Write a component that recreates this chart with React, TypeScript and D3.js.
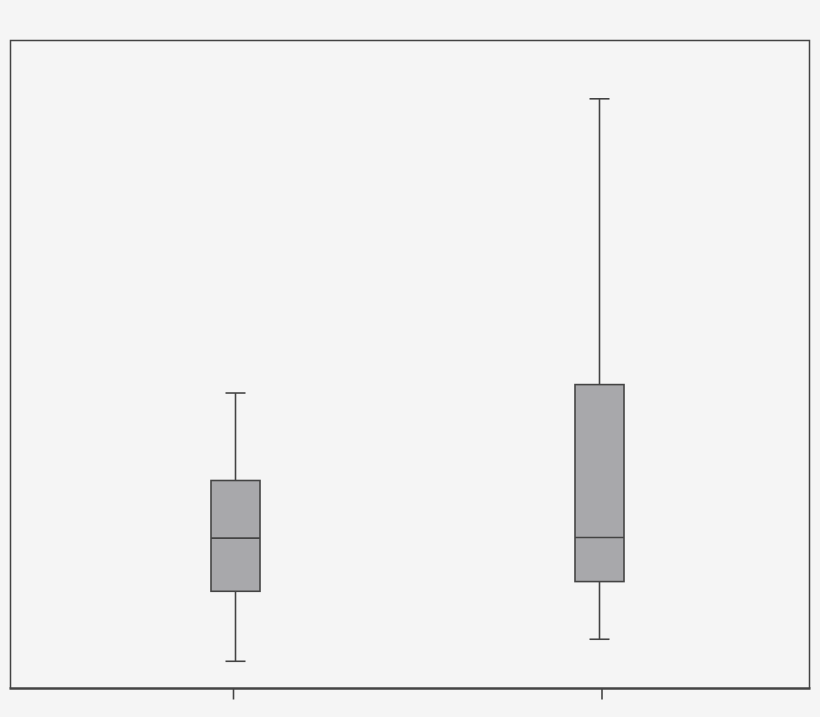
import React, { useEffect, useRef } from 'react';
import * as d3 from 'd3';

// one entry per group, values on an arbitrary 0-100 scale (no y labels in the source)
const categories = ['Group 1', 'Group 2'];
const whiskerLow = [4.2, 7.6];
const q1Values = [15.0, 16.5];
const medians = [23.2, 23.3];
const q3Values = [32.1, 46.9];
const whiskerHigh = [45.6, 91.0];

const width = 820;
const height = 717;

export default function App() {
  const svgRef = useRef<SVGSVGElement>(null);

  useEffect(() => {
    if (!svgRef.current) return;
    const svg = d3.select(svgRef.current);
    svg.selectAll('*').remove();

    const left = 10.5, right = 809.5, top = 40.5, bottom = 688.5;

    svg.append('rect')
      .attr('width', width)
      .attr('height', height)
      .attr('fill', '#f5f5f5');

    // boxes sit slightly off the tick marks in the source
    const x = d3.scalePoint<string>()
      .domain(categories)
      .range([235.5, 599.5]);
    const xTicks = d3.scalePoint<string>()
      .domain(categories)
      .range([233, 601.5]);

    const y = d3.scaleLinear()
      .domain([0, 100])
      .range([bottom, top]);

    // frame (top, left, right)
    svg.append('path')
      .attr('d', `M${left},${bottom} V${top} H${right} V${bottom}`)
      .attr('fill', 'none')
      .attr('stroke', '#444')
      .attr('stroke-width', 1.5);

    const boxW = 49;
    const capW = 20;

    const boxes = svg.append('g').selectAll('g')
      .data(categories)
      .enter()
      .append('g')
      .attr('transform', (d) => `translate(${x(d)},0)`);

    boxes.append('line')
      .attr('x1', 0).attr('x2', 0)
      .attr('y1', (_, i) => y(whiskerHigh[i]))
      .attr('y2', (_, i) => y(q3Values[i]))
      .attr('stroke', '#444').attr('stroke-width', 1.6);

    boxes.append('line')
      .attr('x1', 0).attr('x2', 0)
      .attr('y1', (_, i) => y(q1Values[i]))
      .attr('y2', (_, i) => y(whiskerLow[i]))
      .attr('stroke', '#444').attr('stroke-width', 1.6);

    boxes.append('line')
      .attr('x1', -capW / 2).attr('x2', capW / 2)
      .attr('y1', (_, i) => y(whiskerHigh[i]))
      .attr('y2', (_, i) => y(whiskerHigh[i]))
      .attr('stroke', '#444').attr('stroke-width', 1.6);

    boxes.append('line')
      .attr('x1', -capW / 2).attr('x2', capW / 2)
      .attr('y1', (_, i) => y(whiskerLow[i]))
      .attr('y2', (_, i) => y(whiskerLow[i]))
      .attr('stroke', '#444').attr('stroke-width', 1.6);

    boxes.append('rect')
      .attr('x', -boxW / 2)
      .attr('width', boxW)
      .attr('y', (_, i) => y(q3Values[i]))
      .attr('height', (_, i) => y(q1Values[i]) - y(q3Values[i]))
      .attr('fill', '#a8a8ab')
      .attr('stroke', '#444')
      .attr('stroke-width', 1.6);

    boxes.append('line')
      .attr('x1', -boxW / 2).attr('x2', boxW / 2)
      .attr('y1', (_, i) => y(medians[i]))
      .attr('y2', (_, i) => y(medians[i]))
      .attr('stroke', '#444').attr('stroke-width', 1.6);

    // bottom axis, no labels
    const axis = svg.append('g')
      .attr('transform', `translate(0,${bottom})`)
      .call(d3.axisBottom(xTicks).tickSize(11).tickFormat(() => '').tickSizeOuter(0));
    axis.select('.domain').remove();
    axis.selectAll('.tick line').attr('stroke', '#444').attr('stroke-width', 1.6);
    svg.append('line')
      .attr('x1', left - 1).attr('x2', right + 1)
      .attr('y1', bottom).attr('y2', bottom)
      .attr('stroke', '#444').attr('stroke-width', 2.4);
  }, []);

  return (
    <svg
      ref={svgRef}
      width={width}
      height={height}
      style={{ position: 'absolute', left: 0, top: 0, display: 'block' }}
    />
  );
}
